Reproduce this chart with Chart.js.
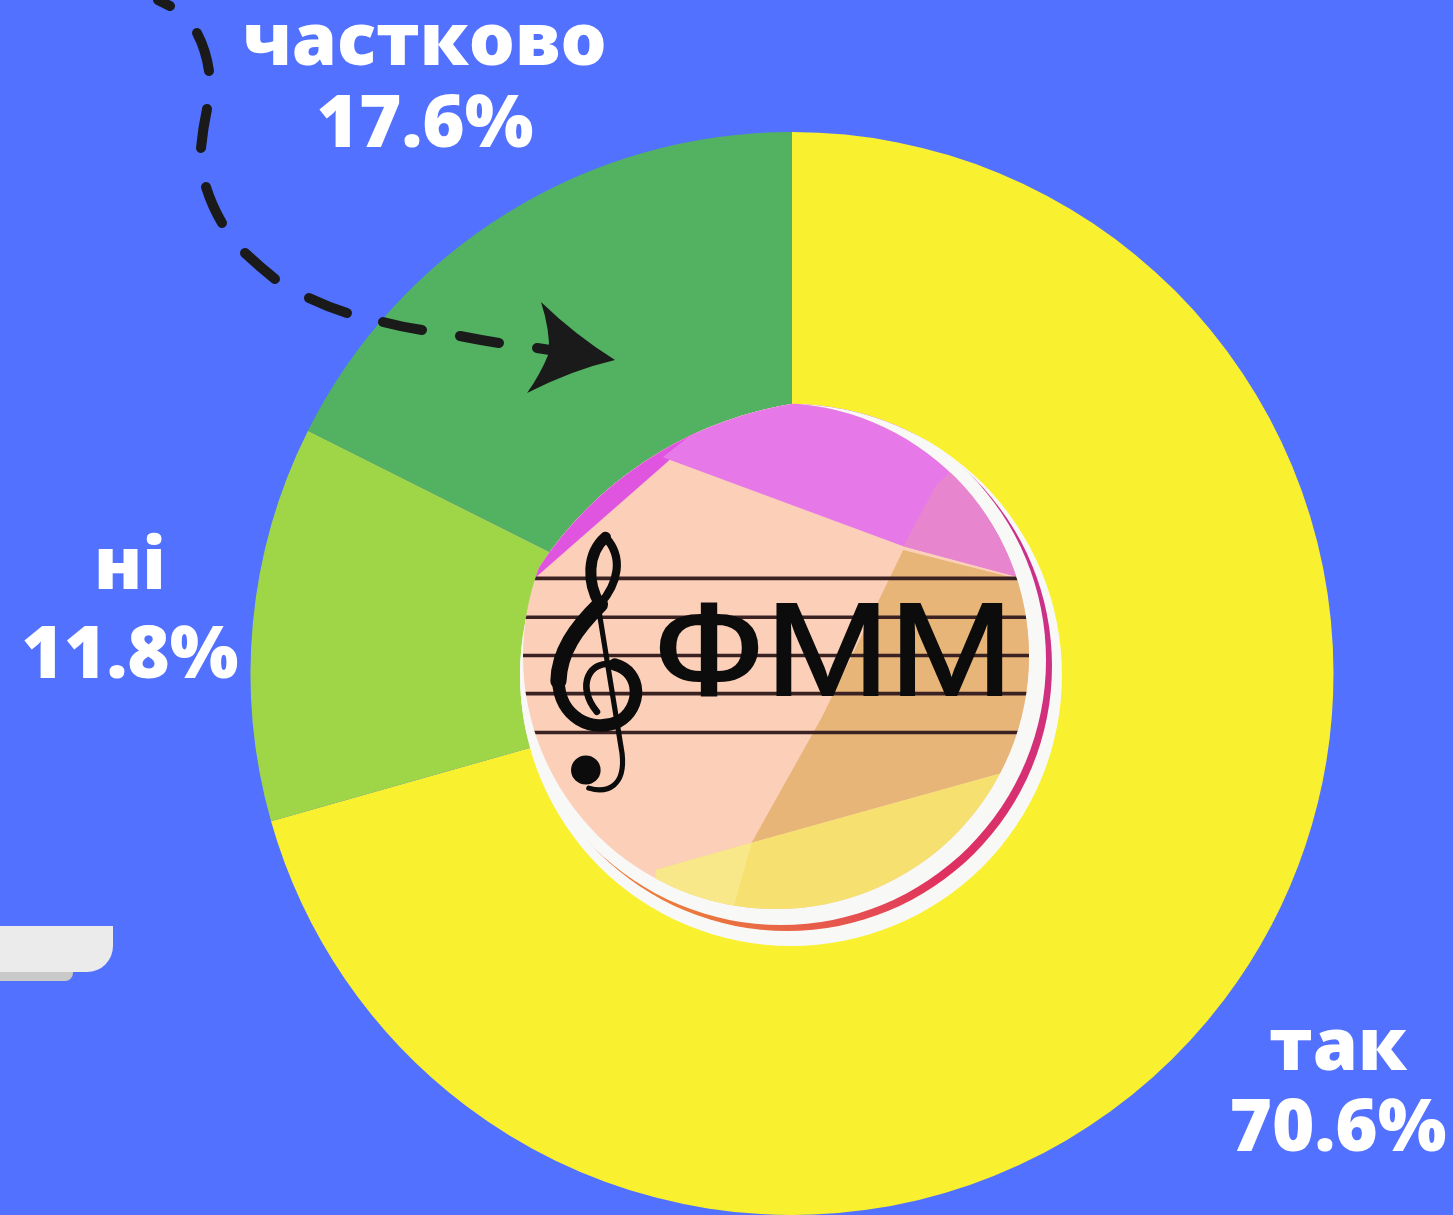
<!DOCTYPE html>
<html>
<head>
<meta charset="utf-8">
<style>
html, body { margin: 0; padding: 0; background: #5271ff; overflow: hidden; }
canvas { display: block; }
</style>
<script src="https://cdn.jsdelivr.net/npm/chart.js@4"></script>
</head>
<body>
<canvas id="chart" width="1453" height="1215"></canvas>
<script>
var categories = ['так', 'ні', 'частково'];
var shares = [70.6, 11.8, 17.6];
var sliceColors = ['#f9f02f', '#9fd648', '#52b262'];
var logoText = 'ФММ';

// --- Slice labels, placed by hand like in the original poster ---
var labelBoxes = [
    { cx: 1338, y1: 1070, y2: 1151 },
    { cx: 130, y1: 589, y2: 678 },
    { cx: 425, y1: 65, y2: 147 }
];

function shape(ctx, pts, color) {
    ctx.fillStyle = color;
    ctx.beginPath();
    pts.forEach(function (p, i) {
        if (i === 0) { ctx.moveTo(p[0], p[1]); } else { ctx.lineTo(p[0], p[1]); }
    });
    ctx.closePath();
    ctx.fill();
}

function disc(ctx, x, y, r, color) {
    ctx.fillStyle = color;
    ctx.beginPath();
    ctx.arc(x, y, r, 0, Math.PI * 2);
    ctx.fill();
}

function drawCard(ctx) {
    ctx.fillStyle = '#c9c9c9';
    ctx.beginPath();
    ctx.roundRect(-20, 950, 93, 31, 8);
    ctx.fill();
    ctx.fillStyle = '#ebebeb';
    ctx.beginPath();
    ctx.roundRect(-30, 926, 143, 46, [0, 0, 26, 0]);
    ctx.fill();
}

function drawLogo(ctx) {
    ctx.save();
    // the whole logo is flattened a bit on its upper left edge, like the source image
    ctx.beginPath();
    ctx.arc(852, 774, 375, 0, Math.PI * 2);
    ctx.clip();

    // white plate and the thin coloured crescent, kept inside the plate
    disc(ctx, 791, 675, 271, '#f8f8f6');
    ctx.save();
    ctx.beginPath();
    ctx.arc(791, 675, 271, 0, Math.PI * 2);
    ctx.clip();
    var ring = ctx.createLinearGradient(1050, 560, 700, 930);
    ring.addColorStop(0, '#c8308e');
    ring.addColorStop(0.6, '#e0305f');
    ring.addColorStop(1, '#ec7a3c');
    disc(ctx, 787, 666, 265, ring);
    disc(ctx, 781, 660, 265, '#f8f8f6');
    ctx.restore();

    // picture
    ctx.beginPath();
    ctx.arc(776, 656, 253, 0, Math.PI * 2);
    ctx.clip();
    // coordinates below are relative to the logo crop
    ctx.translate(500, 390);
    ctx.scale(1 / 2.703, 1 / 2.75);
    ctx.fillStyle = '#fbcfb8';
    ctx.fillRect(0, 0, 1568, 1568);
    shape(ctx, [[80, 530], [450, 200], [530, 120], [620, 0], [60, 0]], '#e055e0');
    shape(ctx, [[440, 185], [1090, 430], [1420, 520], [1420, 0], [600, 0], [520, 120]], '#e678e8');
    shape(ctx, [[1180, 260], [1090, 430], [1420, 520], [1420, 260], [1300, 150]], '#e885cf');
    shape(ctx, [[1090, 440], [1440, 530], [1440, 1030], [680, 1245], [870, 900]], '#e8b578');
    shape(ctx, [[420, 1320], [680, 1245], [1440, 1030], [1440, 1500], [420, 1500]], '#f5e070');
    shape(ctx, [[420, 1320], [680, 1245], [610, 1500], [420, 1500]], '#f9e88a');

    // staff
    ctx.strokeStyle = '#3a2222';
    ctx.lineWidth = 10;
    [518, 625, 730, 835, 942].forEach(function (y) {
        ctx.beginPath();
        ctx.moveTo(0, y);
        ctx.lineTo(1568, y);
        ctx.stroke();
    });

    // clef
    ctx.strokeStyle = '#0c0c0c';
    ctx.lineCap = 'round';
    ctx.lineWidth = 22;
    ctx.beginPath();
    ctx.moveTo(285, 405);
    ctx.bezierCurveTo(335, 460, 320, 530, 270, 590);
    ctx.stroke();
    ctx.lineWidth = 30;
    ctx.beginPath();
    ctx.moveTo(285, 405);
    ctx.bezierCurveTo(235, 450, 235, 530, 270, 590);
    ctx.stroke();
    ctx.lineWidth = 44;
    ctx.beginPath();
    ctx.moveTo(270, 590);
    ctx.bezierCurveTo(205, 655, 160, 720, 158, 800);
    ctx.stroke();
    ctx.lineWidth = 34;
    ctx.beginPath();
    ctx.moveTo(158, 800);
    ctx.bezierCurveTo(160, 900, 250, 945, 320, 912);
    ctx.bezierCurveTo(385, 875, 385, 775, 310, 755);
    ctx.stroke();
    ctx.lineWidth = 18;
    ctx.beginPath();
    ctx.moveTo(310, 755);
    ctx.bezierCurveTo(240, 740, 205, 815, 262, 885);
    ctx.stroke();
    ctx.lineWidth = 14;
    ctx.beginPath();
    ctx.moveTo(260, 560);
    ctx.lineTo(330, 1000);
    ctx.bezierCurveTo(340, 1090, 290, 1110, 240, 1095);
    ctx.stroke();
    disc(ctx, 232, 1045, 40, '#0c0c0c');

    // wordmark, stretched to the width it has in the logo
    ctx.fillStyle = '#0c0c0c';
    ctx.strokeStyle = '#0c0c0c';
    ctx.lineWidth = 6;
    ctx.lineJoin = 'miter';
    ctx.font = '360px "Liberation Sans"';
    ctx.textAlign = 'left';
    ctx.textBaseline = 'alphabetic';
    var stretch = 975 / ctx.measureText(logoText).width;
    ctx.translate(412, 838);
    ctx.scale(stretch, 1);
    ctx.fillText(logoText, 0, 0);
    ctx.strokeText(logoText, 0, 0);
    ctx.restore();
}

function drawArrow(ctx) {
    var dashes = [
        [158, 0, 164, 3, 170, 6],
        [197, 33, 206, 50, 209, 71],
        [207, 109, 203, 128, 201, 148],
        [206, 187, 212, 206, 222, 223],
        [245, 253, 260, 267, 275, 279],
        [309, 298, 328, 307, 347, 313],
        [383, 322, 402, 327, 422, 330],
        [460, 336, 480, 340, 499, 343],
        [537, 348, 544, 349, 550, 350]
    ];
    ctx.save();
    ctx.strokeStyle = '#1a1a1a';
    ctx.fillStyle = '#1a1a1a';
    ctx.lineWidth = 10;
    ctx.lineCap = 'round';
    dashes.forEach(function (d) {
        ctx.beginPath();
        ctx.moveTo(d[0], d[1]);
        ctx.quadraticCurveTo(d[2], d[3], d[4], d[5]);
        ctx.stroke();
    });
    ctx.beginPath();
    ctx.moveTo(615, 360);
    ctx.quadraticCurveTo(575, 335, 541, 302);
    ctx.quadraticCurveTo(550, 330, 549, 353);
    ctx.quadraticCurveTo(540, 375, 527, 393);
    ctx.quadraticCurveTo(572, 370, 615, 360);
    ctx.fill();
    ctx.restore();
}

function drawLabels(ctx) {
    ctx.save();
    ctx.fillStyle = '#ffffff';
    ctx.textAlign = 'center';
    ctx.textBaseline = 'alphabetic';
    ctx.font = '800 72.5px "Open Sans"';
    categories.forEach(function (name, i) {
        var box = labelBoxes[i];
        ctx.fillText(name, box.cx, box.y1);
        ctx.fillText(shares[i].toFixed(1) + '%', box.cx, box.y2);
    });
    ctx.restore();
}

var posterPlugin = {
    id: 'poster',
    beforeDraw: function (chart) {
        drawCard(chart.ctx);
    },
    afterDraw: function (chart) {
        drawLogo(chart.ctx);
        drawArrow(chart.ctx);
        drawLabels(chart.ctx);
    }
};

new Chart(document.getElementById('chart'), {
    type: 'doughnut',
    data: {
        labels: categories,
        datasets: [{
            data: shares,
            backgroundColor: sliceColors,
            borderWidth: 0,
            hoverOffset: 0
        }]
    },
    options: {
        responsive: false,
        animation: false,
        cutout: '46%',
        layout: { padding: { left: 249, right: 118, top: 132, bottom: -2 } },
        plugins: { legend: { display: false }, tooltip: { enabled: false } }
    },
    plugins: [posterPlugin]
});
</script>
</body>
</html>
